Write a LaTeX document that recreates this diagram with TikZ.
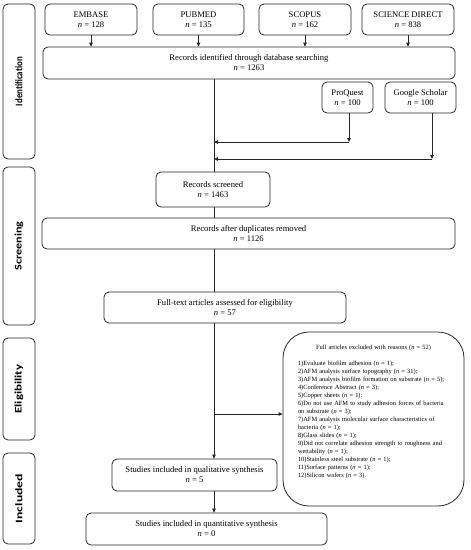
\documentclass[tikz,border=0pt]{standalone}
\usepackage{fontspec}
\setmainfont{Liberation Serif}
\newfontfamily\sidefont{Carlito}
\usetikzlibrary{arrows.meta}
\newcommand{\sidelabel}[1]{\resizebox{49pt}{\height}{\sidefont\bfseries #1}}
\begin{document}
\begin{tikzpicture}[x=1pt,y=-1pt,
  box/.style={draw=black!85, rounded corners=5pt, line width=0.8pt, align=center, inner sep=0pt, font=\fontsize{8.6}{10}\selectfont},
  side/.style={draw=black!85, rounded corners=5pt, line width=0.8pt, inner sep=0pt, font=\fontsize{10}{12}\selectfont, rotate=90, minimum height=32pt},
  link/.style={line width=0.8pt, draw=black!85},
  arr/.style={line width=0.8pt, draw=black!85, -{Triangle[length=4pt,width=3.6pt]}}]
\useasboundingbox (0,0) rectangle (471,550);
% side labels
\node[side, minimum width=155pt] (sid) at (19,81.5) {\sidelabel{Identification}};
\node[side, minimum width=158pt] (sscr) at (19,246) {\sidelabel{Screening}};
\node[side, minimum width=102pt] (selig) at (19,389) {\sidelabel{Eligibility}};
\node[side, minimum width=91pt] (sinc) at (19,498.5) {\sidelabel{Included}};
% database boxes
\node[box, minimum width=92pt, minimum height=31pt] (embase) at (91,19.5) {EMBASE\\\textit{n} = 128};
\node[box, minimum width=91pt, minimum height=31pt] (pubmed) at (198.5,19.5) {PUBMED\\\textit{n} = 135};
\node[box, minimum width=92pt, minimum height=31pt] (scopus) at (305,19.5) {SCOPUS\\\textit{n} = 162};
\node[box, minimum width=92pt, minimum height=31pt] (sd) at (408,19.5) {SCIENCE DIRECT\\\textit{n} = 838};
\node[box, minimum width=412pt, minimum height=32pt] (rid) at (249,63) {Records identified through database searching\\\textit{n} = 1263};
\node[box, minimum width=51pt, minimum height=31pt] (proquest) at (347.5,97.5) {ProQuest\\\textit{n} = 100};
\node[box, minimum width=71pt, minimum height=31pt] (google) at (420.5,97.5) {Google Scholar\\\textit{n} = 100};
\node[box, minimum width=114pt, minimum height=35pt] (screened) at (213,189.5) {Records screened\\\textit{n} = 1463};
\node[box, minimum width=413pt, minimum height=31pt] (dup) at (248.5,233.5) {Records after duplicates removed\\\textit{n} = 1126};
\node[box, minimum width=242pt, minimum height=31pt] (full) at (225,307.5) {Full-text articles assessed for eligibility\\\textit{n} = 57};
\node[box, minimum width=165pt, minimum height=32pt] (qual) at (194.5,475) {Studies included in qualitative synthesis\\\textit{n} = 5};
\node[box, minimum width=241pt, minimum height=32pt] (quant) at (206.5,529) {Studies included in quantitative synthesis\\\textit{n} = 0};
\node[draw=black!85, line width=0.8pt, rounded corners=26pt, minimum width=181pt, minimum height=174pt, inner sep=0pt] (excl) at (373.5,419) {};
\node[anchor=north, text width=151pt, align=left, inner sep=0pt, font=\fontsize{6.4}{8}\selectfont] (excltext) at (373.5,344.6) {%
\makebox[\linewidth]{Full articles excluded with reasons (\textit{n} = 52)}\\[8pt]
1)Evaluate biofilm adhesion (\textit{n} = 1);\\
2)AFM analysis surface topography (\textit{n} = 31);\\
3)AFM analysis biofilm formation on substrate (\textit{n} = 5);\\
4)Conference Abstract (\textit{n} = 3);\\
5)Copper sheets (\textit{n} = 1);\\
\makebox[\linewidth][s]{6)Do not use AFM to study adhesion forces of bacteria}\\
on substrate (\textit{n} = 3);\\
\makebox[\linewidth][s]{7)AFM analysis molecular surface characteristics of}\\
bacteria (\textit{n} = 1);\\
8)Glass slides (\textit{n} = 1);\\
\makebox[\linewidth][s]{9)Did not correlate adhesion strength to roughness and}\\
wettability (\textit{n} = 1);\\
10)Stainless steel substrate (\textit{n} = 1);\\
11)Surface patterns (\textit{n} = 1);\\
12)Silicon wafers (\textit{n} = 3).};
% junction coordinates
\coordinate (mx) at (214,0);
\coordinate (pqj) at (349,142);
\coordinate (gsj) at (432,159);
\coordinate (br) at (214,414);
% connectors
\draw[arr] (embase.south) -- (embase.south |- rid.north);
\draw[arr] (pubmed.south) -- (pubmed.south |- rid.north);
\draw[arr] (scopus.south) -- (scopus.south |- rid.north);
\draw[arr] (sd.south) -- (sd.south |- rid.north);
\draw[link] (rid.south -| mx) -- (screened.north -| mx);
\draw[arr] (proquest.south -| pqj) -- (pqj);
\draw[arr] (pqj) -- (pqj -| mx);
\draw[arr] (google.south -| gsj) -- (gsj);
\draw[arr] (gsj) -- (gsj -| mx);
\draw[link] (screened.south -| mx) -- (dup.north -| mx);
\draw[link] (dup.south -| mx) -- (full.north -| mx);
\draw[arr] (full.south -| mx) -- (qual.north -| mx);
\draw[arr] (br) -- (excl.west |- br);
\draw[arr] (qual.south -| mx) -- (quant.north -| mx);
\end{tikzpicture}
\end{document}
